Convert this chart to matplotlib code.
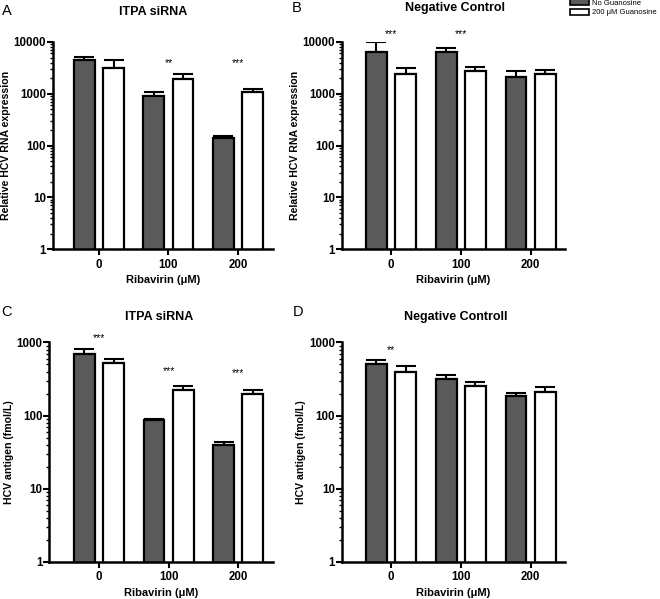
import matplotlib.pyplot as plt
import numpy as np
from matplotlib import ticker
from matplotlib.patches import Patch

plt.rcParams['font.family'] = ['Liberation Sans', 'DejaVu Sans']

doses = ['0', '100', '200']
legend_labels = ['No Guanosine', '200 \u03bcM Guanosine']

# panel A: ITPA siRNA, relative HCV RNA
a_none = [4400, 920, 140]
a_none_err = [700, 140, 12]
a_guan = [3100, 1950, 1070]
a_guan_err = [1300, 500, 160]
a_stars = ['', '**', '***']
a_star_y = [3850, 3850, 3850]

# panel B: negative control, relative HCV RNA
b_none = [6400, 6400, 2100]
b_none_err = [3600, 1400, 700]
b_guan = [2450, 2750, 2450]
b_guan_err = [700, 550, 400]
b_stars = ['***', '***', '']
b_star_y = [14000, 14000, 14000]

# panel C: ITPA siRNA, HCV antigen
c_none = [700, 86, 39]
c_none_err = [120, 5, 5]
c_guan = [520, 226, 200]
c_guan_err = [80, 25, 21]
c_stars = ['***', '***', '***']
c_star_y = [1160, 402, 383]

# panel D: negative control, HCV antigen
d_none = [510, 318, 186]
d_none_err = [70, 43, 20]
d_guan = [395, 255, 211]
d_guan_err = [75, 32, 34]
d_stars = ['**', '', '']
d_star_y = [794, 794, 794]

DARK = '#5a5a5a'


def draw_panel(ax, none, none_err, guan, guan_err, stars, star_y,
               ylim, ylabel, xlim):
    x = np.arange(len(doses))
    w, off = 0.30, 0.21
    for xs, vals, errs, fc in [(x - off, none, none_err, DARK),
                               (x + off, guan, guan_err, 'white')]:
        ax.errorbar(xs, vals, yerr=[np.zeros(len(errs)), errs], fmt='none',
                    ecolor='black', elinewidth=1.5, capsize=7,
                    capthick=1.5, zorder=1)
        ax.bar(xs, vals, width=w, color=fc, edgecolor='black',
               linewidth=1.6, zorder=2)
    for xi, s, sy in zip(x, stars, star_y):
        if s:
            ax.text(xi, sy, s, ha='center', va='center', fontsize=7.5,
                    clip_on=False)
    ax.set_yscale('log')
    ax.set_ylim(*ylim)
    ax.set_xlim(*xlim)
    ax.yaxis.set_major_formatter(
        ticker.FuncFormatter(lambda v, p: '%g' % v))
    ax.yaxis.set_minor_locator(
        ticker.LogLocator(base=10, subs=np.arange(2, 10), numticks=20))
    ax.yaxis.set_minor_formatter(ticker.NullFormatter())
    ax.set_xticks(x)
    ax.set_xticklabels(doses)
    for side in ['top', 'right']:
        ax.spines[side].set_visible(False)
    for side in ['left', 'bottom']:
        ax.spines[side].set_linewidth(1.8)
    ax.tick_params(which='major', length=4, width=1.5, labelsize=8.3)
    ax.tick_params(axis='y', which='major', pad=1)
    ax.tick_params(axis='x', which='major', pad=3)
    ax.tick_params(which='minor', length=2.5, width=1.0)
    for lab in ax.get_xticklabels() + ax.get_yticklabels():
        lab.set_fontweight('bold')
    ax.set_ylabel(ylabel, fontsize=7.6, fontweight='bold', labelpad=2)
    ax.set_xlabel('Ribavirin (\u03bcM)', fontsize=8, fontweight='bold',
                  labelpad=3)


fig = plt.figure(figsize=(6.6, 5.99), dpi=100)
ax_a = fig.add_axes([0.0803, 0.584, 0.333, 0.346])
ax_b = fig.add_axes([0.518, 0.584, 0.338, 0.346])
ax_c = fig.add_axes([0.0747, 0.0623, 0.339, 0.366])
ax_d = fig.add_axes([0.518, 0.0623, 0.338, 0.366])

draw_panel(ax_a, a_none, a_none_err, a_guan, a_guan_err, a_stars, a_star_y,
           (1, 10000), 'Relative HCV RNA expression', (-0.66, 2.50))
draw_panel(ax_b, b_none, b_none_err, b_guan, b_guan_err, b_stars, b_star_y,
           (1, 10000), 'Relative HCV RNA expression', (-0.70, 2.49))
draw_panel(ax_c, c_none, c_none_err, c_guan, c_guan_err, c_stars, c_star_y,
           (1, 1000), 'HCV antigen (fmol/L)', (-0.715, 2.50))
draw_panel(ax_d, d_none, d_none_err, d_guan, d_guan_err, d_stars, d_star_y,
           (1, 1000), 'HCV antigen (fmol/L)', (-0.70, 2.49))

# titles and panel letters
titles = [('ITPA siRNA', 153, 12), ('Negative Control', 455, 8),
          ('ITPA siRNA', 159, 317), ('Negative Controll', 456, 317)]
for txt, px, py in titles:
    fig.text(px / 660, 1 - py / 599, txt, ha='center', va='center',
             fontsize=9, fontweight='bold')
for letter, px, py in [('A', 7, 11), ('B', 297, 8), ('C', 7, 312),
                       ('D', 298, 312)]:
    fig.text(px / 660, 1 - py / 599, letter, ha='center', va='center',
             fontsize=10.5)

handles = [Patch(facecolor=DARK, edgecolor='black', linewidth=1.2),
           Patch(facecolor='white', edgecolor='black', linewidth=1.2)]
fig.legend(handles, legend_labels, loc='upper left',
           bbox_to_anchor=(569 / 660, 1.003), frameon=False, fontsize=5.5,
           handlelength=2.5, handleheight=0.8, handletextpad=0.45,
           labelspacing=0.3, borderpad=0.1, borderaxespad=0)

fig.savefig('out.png', dpi=100)
